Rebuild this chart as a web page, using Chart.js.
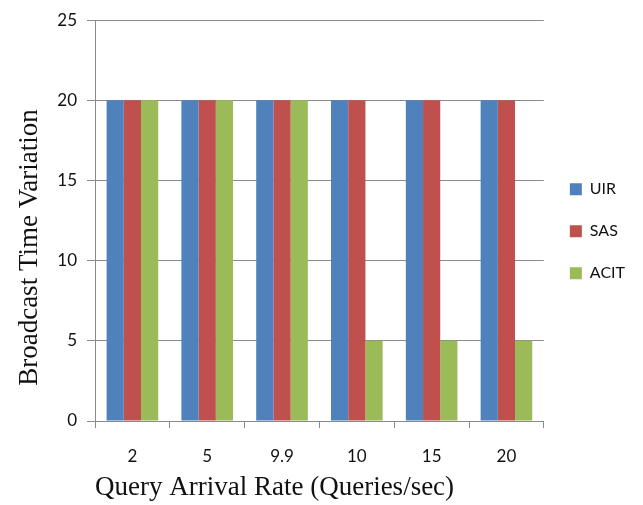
<!DOCTYPE html>
<html>
<head>
<meta charset="utf-8">
<script src="https://cdn.jsdelivr.net/npm/chart.js@4/dist/chart.umd.min.js"></script>
<style>
  html, body { margin: 0; padding: 0; background: #fff; }
  #wrap { width: 643px; height: 505px; }
</style>
</head>
<body>
<div id="wrap"><canvas id="c" width="643" height="505"></canvas></div>
<script>
// Query arrival rates (categories) and broadcast time variation per scheme
const rates = ['2', '5', '9.9', '10', '15', '20'];
const uirValues  = [20, 20, 20, 20, 20, 20];
const sasValues  = [20, 20, 20, 20, 20, 20];
const acitValues = [20, 20, 20, 5, 5, 5];
const yTicks = [0, 5, 10, 15, 20, 25];

const axisGray = '#8a8a8a';
const tickFont = { family: 'Lato, "Open Sans", sans-serif', size: 17 };
const serif = '"Liberation Serif", "Times New Roman", serif';

const chart = new Chart(document.getElementById('c'), {
  type: 'bar',
  data: {
    labels: rates,
    datasets: [
      { label: 'UIR',  data: uirValues,  backgroundColor: '#4F81BD' },
      { label: 'SAS',  data: sasValues,  backgroundColor: '#C0504D' },
      { label: 'ACIT', data: acitValues, backgroundColor: '#9BBB59' }
    ]
  },
  options: {
    responsive: false,
    animation: false,
    devicePixelRatio: 1,
    layout: { padding: { top: 8, left: 0, right: 8, bottom: 0 } },
    datasets: {
      bar: { categoryPercentage: 0.69, barPercentage: 1.0, borderWidth: 0 }
    },
    plugins: {
      tooltip: { enabled: false },
      legend: {
        position: 'right',
        align: 'start',
        // empty title used as a spacer above the legend entries
        title: { display: true, text: '', padding: 73, font: { size: 1 } },
        labels: {
          boxWidth: 12,
          boxHeight: 12,
          padding: 26,
          color: '#111',
          font: { family: 'Lato, "Open Sans", sans-serif', size: 16 }
        }
      }
    },
    scales: {
      x: {
        grid: {
          offset: true,
          drawOnChartArea: false,
          drawTicks: true,
          tickLength: 7,
          color: axisGray
        },
        border: { display: true, color: axisGray, width: 1 },
        ticks: { color: '#111', font: tickFont, padding: 18 },
        title: {
          display: true,
          align: 'start',
          text: 'Query Arrival Rate (Queries/sec)',
          color: '#111',
          font: { family: serif, size: 27 },
          padding: { top: 5, bottom: 1 }
        },
        afterFit: (s) => { s.height = 84; }
      },
      y: {
        min: 0,
        max: 25,
        afterBuildTicks: (s) => { s.ticks = yTicks.map(v => ({ value: v })); },
        grid: {
          color: axisGray,
          lineWidth: 1,
          drawTicks: true,
          tickLength: 8
        },
        border: { display: true, color: axisGray, width: 1 },
        ticks: { color: '#111', font: tickFont, padding: 10 },
        title: {
          display: true,
          // trailing spaces nudge the rotated title toward the bottom of the axis
          text: 'Broadcast Time Variation        ',
          color: '#111',
          font: { family: serif, size: 27 },
          padding: { top: 14, bottom: 0 }
        },
        afterFit: (s) => { s.width = 95; }
      }
    }
  }
});
</script>
</body>
</html>
